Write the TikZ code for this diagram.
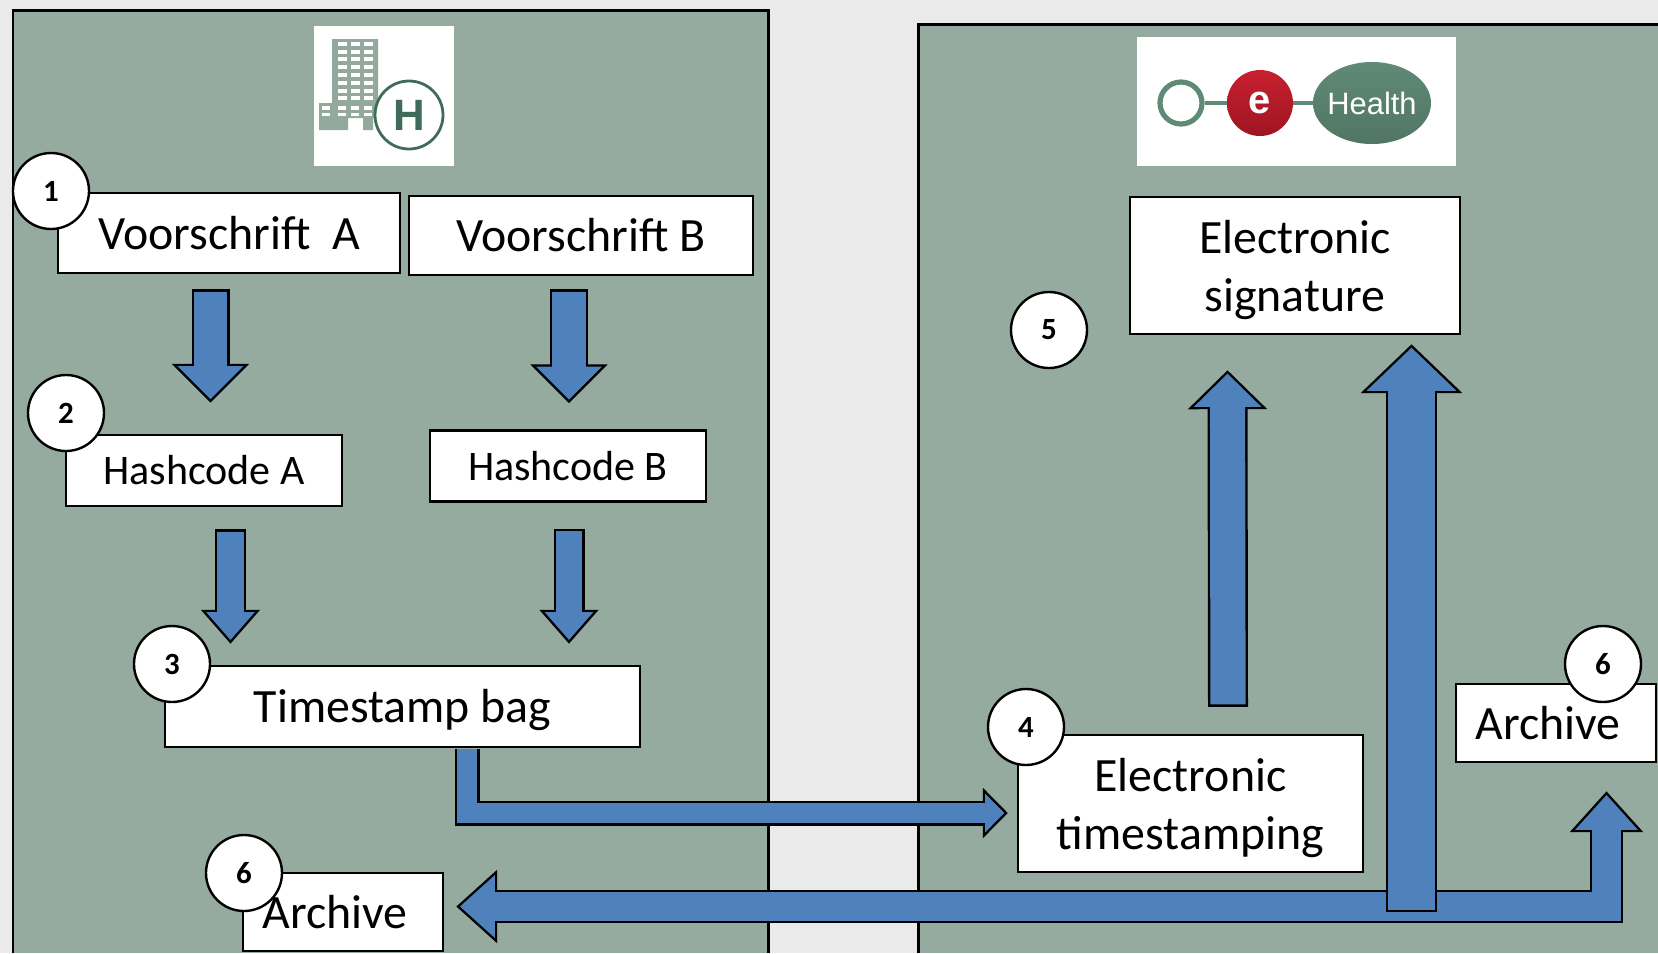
\documentclass[tikz,border=0pt]{standalone}
\usepackage{fontspec}
\setmainfont{Carlito}
\newfontfamily\logofont{Liberation Sans}
\usetikzlibrary{arrows.meta,shapes.geometric}

\definecolor{pagegray}{HTML}{EAEAEA}
\definecolor{panelgreen}{HTML}{95ABA0}
\definecolor{arrowblue}{HTML}{4F81BD}
\definecolor{towergreen}{HTML}{93A99E}
\definecolor{darkgreen}{HTML}{3F6B58}
\definecolor{logogreen}{HTML}{5F8A76}
\definecolor{ballred}{HTML}{C8202F}
\definecolor{balldark}{HTML}{9E1522}

% shaft width, head length, head width are given in pixels (1 pixel = .5bp)
\newcommand{\blockarrow}[5]{%
	\pgfmathsetmacro{\shaftw}{#2/2}
	\pgfmathsetmacro{\headl}{#3/2}
	\pgfmathsetmacro{\headw}{#4/2}
	\pgfmathsetmacro{\tipback}{1.2*sqrt(\headl*\headl+\headw*\headw/4)/(\headw/2)}
	\pgfmathsetmacro{\innerl}{\headl-1.2-\tipback}
	\pgfmathsetmacro{\innerw}{\headw*\innerl/\headl}
	\draw[#1,line width=\shaftw bp+1bp,>={Triangle[length=\headl bp,width=\headw bp]},
		shorten <=0pt,shorten >=0pt] #5;
	\draw[#1,draw=arrowblue,line width=\shaftw bp-1.4bp,
		>={Triangle[length=\innerl bp,width=\innerw bp]},shorten >=\tipback bp] #5;
}

\tikzset{
panelbox/.style={fill=panelgreen},
paneledge/.style={line width=1.5pt},
textbox/.style={
	% The shape:
	rectangle,draw,fill=white,line width=1.2pt,inner sep=0pt,align=center,
	font=\fontsize{24}{29}\selectfont},
hashbox/.style={textbox,minimum width=138bp,minimum height=35.5bp,font=\fontsize{21.1}{25}\selectfont},
badge/.style={circle,draw,fill=white,line width=1.2pt,inner sep=0pt,minimum size=38bp,
	font=\fontsize{15.5}{18}\selectfont\bfseries},
oneway/.style={->,shorten <=1.2bp},
openway/.style={->},
twoway/.style={<->,shorten <=\tipback bp}
}

\begin{document}
\begin{tikzpicture}[x=.5bp,y=-.5bp]
\useasboundingbox[fill=pagegray] (0,0) rectangle (1658,953);

%Begin panels
\fill[panelbox] (13,10) rectangle (768,953);
\draw[paneledge] (13,953) -- (13,10) -- (768,10) -- (768,953);
\fill[panelbox] (918,24) rectangle (1658,953);
\draw[paneledge] (918,953) -- (918,24) -- (1658,24);

%Begin hospital logo
\fill[white] (314,26) rectangle (454,166);
\fill[towergreen] (332,39) rectangle (378,118) (319,103) rectangle (348,130) (363,118) rectangle (373,130);
\foreach \col in {338,351,364}
	\foreach \row in {42,50,57,65,73,81,89,96}
		\fill[white] (\col,\row) rectangle +(8.5,3.8);
\foreach \col in {322,338,351,364}
	\foreach \row in {106,112.5}
		\fill[white] (\col,\row) rectangle +(8,3.8);
\node (hospital) [circle,draw=darkgreen,fill=white,line width=1.4pt,minimum size=34bp,inner sep=0pt,
	text=darkgreen,font=\logofont\fontsize{22}{22}\selectfont\bfseries] at (409,115) {H};

%Begin eHealth logo
\fill[white] (1137,37) rectangle (1456,166);
\node (ring) [circle,draw=logogreen,line width=2.6pt,fill=white,minimum size=21bp,inner sep=0pt] at (1181,103) {};
\node (ball) [circle,top color=ballred,bottom color=balldark,minimum size=33bp,inner sep=0pt,
	text=white,font=\logofont\fontsize{20}{20}\selectfont\bfseries] at (1260,103) {e};
\node (oval) [ellipse,top color=logogreen,bottom color=logogreen!85!black,minimum width=59bp,minimum height=41bp,
	inner ysep=0pt,inner xsep=-4pt,text=white,font=\logofont\fontsize{15.5}{16}\selectfont] at (1372,103) {Health};
\draw[logogreen,line width=2.5pt] (ring) -- (ball);
\draw[logogreen,line width=2.5pt] (ball) -- (oval);

%Begin boxes
\node (VA) [textbox,minimum width=171bp,minimum height=40bp] at (229,233) {Voorschrift\ \ A};
\node (VB) [textbox,minimum width=172bp,minimum height=39.5bp] at (581,235.5) {Voorschrift B};
\node (HA) [hashbox] at (204,470.5) {Hashcode A};
\node (HB) [hashbox] at (568,466) {Hashcode B};
\node (TS) [textbox,minimum width=237.5bp,minimum height=40.5bp] at (402.5,706.5) {\rule{0pt}{20pt}Timestamp bag};
\node (AL) [textbox,minimum width=100bp,minimum height=39bp] at (343,912) {Archive\hspace*{8pt}};
\node (ET) [textbox,minimum width=172.5bp,minimum height=68.5bp] at (1190.5,803.5) {\rule{0pt}{21.5pt}Electronic\\timestamping};
\node (ES) [textbox,minimum width=165bp,minimum height=68.5bp] at (1295,265.5) {\rule{0pt}{21.5pt}Electronic\\signature};
\node (AR) [textbox,minimum width=100bp,minimum height=39bp] at (1556,723) {Archive\hspace*{8pt}};

%Begin arrows
\blockarrow{oneway}{36}{39}{75}{([shift={(-18.5,15)}]VA.south) -- ([shift={(6.5,-31)}]HA.north)}
\blockarrow{oneway}{36}{39}{75}{([shift={(-12,13)}]VB.south) -- ([shift={(1,-26)}]HB.north)}
\blockarrow{oneway}{29}{34}{57}{([shift={(26.5,22)}]HA.south) -- ([shift={(-172,-21)}]TS.north)}
\blockarrow{oneway}{29}{34}{57}{([shift={(1,26)}]HB.south) -- ([shift={(166.5,-21)}]TS.north)}
\blockarrow{openway}{23}{25}{49}{([shift={(64.5,1)}]TS.south) |- ([shift={(-9,9.5)}]ET.west)}
\blockarrow{oneway}{38}{39}{77}{([shift={(37.5,-27)}]ET.north) -- ([shift={(-67.5,35)}]ES.south)}
\blockarrow{twoway}{31}{41}{71}{([shift={(12,-5.5)}]AL.east) -| ([shift={(50.5,28)}]AR.south)}
\blockarrow{oneway}{49}{49}{99}{([shift={(221,39)}]ET.south) -- ([shift={(116.5,9)}]ES.south)}

%Begin numbers
\node (n1) [badge] at (51,191) {1};
\node (n2) [badge] at (66,413) {2};
\node (n3) [badge] at (172,664) {3};
\node (n4) [badge] at (1026,727) {4};
\node (n5) [badge] at (1049,330) {5};
\node (n6) [badge] at (244,873) {6};
\node (n7) [badge] at (1603,664) {6};

\end{tikzpicture}
\end{document}
